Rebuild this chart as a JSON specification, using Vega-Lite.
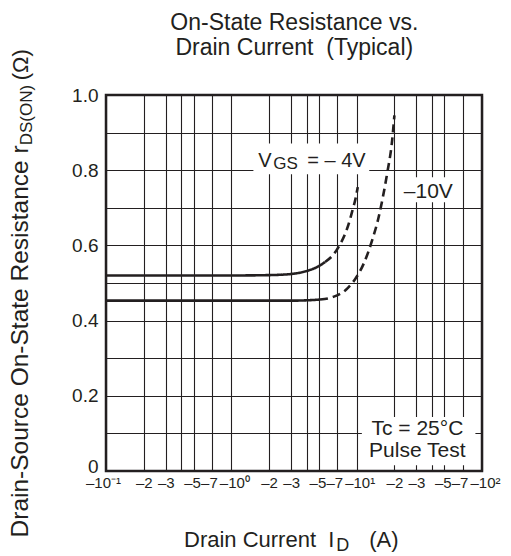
{
  "$schema": "https://vega.github.io/schema/vega-lite/v6.json",
  "width": 376,
  "height": 376,
  "autosize": "none",
  "padding": {"left": 106, "top": 95, "right": 29, "bottom": 85},
  "background": "white",
  "config": {
    "view": {"stroke": "#231f20", "strokeWidth": 2.5},
    "font": "Liberation Sans",
    "text": {"color": "#231f20", "font": "Liberation Sans"}
  },
  "datasets": {
    "boxes": [
      {"x": 11.0, "x2": 88.6, "y": 0.015, "y2": 0.1436},
      {"x": 1.5, "x2": 12.6, "y": 0.789, "y2": 0.871},
      {"x": 22.3, "x2": 62.5, "y": 0.7146, "y2": 0.781}
    ],
    "curves": [
      {"vgs": "-4V", "seg": "solid", "x": 0.1, "y": 0.52},
      {"vgs": "-4V", "seg": "solid", "x": 1, "y": 0.52},
      {"vgs": "-4V", "seg": "solid", "x": 2, "y": 0.521},
      {"vgs": "-4V", "seg": "solid", "x": 3, "y": 0.524},
      {"vgs": "-4V", "seg": "solid", "x": 4, "y": 0.532},
      {"vgs": "-4V", "seg": "solid", "x": 5, "y": 0.545},
      {"vgs": "-4V", "seg": "solid", "x": 5.6, "y": 0.556},
      {"vgs": "-4V", "seg": "dashed", "x": 5.6, "y": 0.556},
      {"vgs": "-4V", "seg": "dashed", "x": 6.5, "y": 0.575},
      {"vgs": "-4V", "seg": "dashed", "x": 7.2, "y": 0.597},
      {"vgs": "-4V", "seg": "dashed", "x": 8.0, "y": 0.627},
      {"vgs": "-4V", "seg": "dashed", "x": 8.6, "y": 0.655},
      {"vgs": "-4V", "seg": "dashed", "x": 9.2, "y": 0.69},
      {"vgs": "-4V", "seg": "dashed", "x": 9.8, "y": 0.725},
      {"vgs": "-4V", "seg": "dashed", "x": 10.2, "y": 0.755},
      {"vgs": "-10V", "seg": "solid", "x": 0.1, "y": 0.453},
      {"vgs": "-10V", "seg": "solid", "x": 1, "y": 0.453},
      {"vgs": "-10V", "seg": "solid", "x": 3, "y": 0.453},
      {"vgs": "-10V", "seg": "solid", "x": 4, "y": 0.454},
      {"vgs": "-10V", "seg": "solid", "x": 5.1, "y": 0.456},
      {"vgs": "-10V", "seg": "dashed", "x": 5.1, "y": 0.456},
      {"vgs": "-10V", "seg": "dashed", "x": 6.5, "y": 0.463},
      {"vgs": "-10V", "seg": "dashed", "x": 8.4, "y": 0.485},
      {"vgs": "-10V", "seg": "dashed", "x": 9.8, "y": 0.512},
      {"vgs": "-10V", "seg": "dashed", "x": 11.4, "y": 0.552},
      {"vgs": "-10V", "seg": "dashed", "x": 13.3, "y": 0.614},
      {"vgs": "-10V", "seg": "dashed", "x": 15.0, "y": 0.676},
      {"vgs": "-10V", "seg": "dashed", "x": 16.0, "y": 0.72},
      {"vgs": "-10V", "seg": "dashed", "x": 17.5, "y": 0.791},
      {"vgs": "-10V", "seg": "dashed", "x": 19.2, "y": 0.88},
      {"vgs": "-10V", "seg": "dashed", "x": 20.0, "y": 0.946}
    ]
  },
  "encoding": {
    "x": {
      "field": "x", "type": "quantitative",
      "scale": {"type": "log", "domain": [0.1, 100], "nice": false},
      "axis": {
        "title": null,
        "values": [0.1, 0.2, 0.3, 0.4, 0.5, 0.7, 1, 2, 3, 4, 5, 7, 10, 20, 30, 40, 50, 70, 100],
        "grid": true, "gridColor": "#231f20", "gridWidth": 1.1, "gridOpacity": 1,
        "ticks": false, "domain": false,
        "labelFont": "Liberation Sans",
        "labelFontSize": 15, "labelColor": "#231f20", "labelPadding": 4,
        "labelBaseline": "top",
        "labelOverlap": false, "labelFlush": false, "labelBound": false,
        "labelOffset": {"condition": [
          {"test": "datum.value==0.1", "value": -3},
          {"test": "datum.value==1||datum.value==10||datum.value==100", "value": 3},
          {"test": "datum.value==0.7||datum.value==7||datum.value==70", "value": -3},
          {"test": "datum.value==0.5||datum.value==5||datum.value==50", "value": -1.5}
        ], "value": 0},
        "labelExpr": "datum.value==0.1?'–10⁻¹':datum.value==1?'–10⁰':datum.value==10?'–10¹':datum.value==100?'–10²':(datum.value==4||datum.value==40||datum.value==0.4)?'':'–'+round(datum.value/pow(10,floor(log(datum.value)/LN10+1e-9)))"
      }
    },
    "y": {
      "field": "y", "type": "quantitative",
      "scale": {"domain": [0, 1], "nice": false, "zero": false},
      "axis": {
        "title": null,
        "values": [0, 0.1, 0.2, 0.3, 0.4, 0.5, 0.6, 0.7, 0.8, 0.9, 1.0],
        "grid": true, "gridColor": "#231f20", "gridWidth": 1.1, "gridOpacity": 1,
        "ticks": false, "domain": false,
        "labelFont": "Liberation Sans", "labelFontSize": 19, "labelColor": "#231f20",
        "labelPadding": 8,
        "labelOffset": {"condition": {"test": "datum.value==0", "value": -5}, "value": 0},
        "labelExpr": "round(datum.value*10)%2==1 ? '' : (datum.value==0 ? '0' : format(datum.value,'.1f'))"
      }
    }
  },
  "layer": [
    {
      "data": {"name": "boxes"},
      "mark": {"type": "rect", "fill": "white", "stroke": null},
      "encoding": {"x2": {"field": "x2"}, "y2": {"field": "y2"}}
    },
    {
      "data": {"name": "curves"},
      "mark": {"type": "line", "color": "#231f20", "strokeWidth": 2.6, "interpolate": "monotone"},
      "encoding": {
        "detail": {"field": "vgs"},
        "strokeDash": {"field": "seg", "type": "nominal", "scale": {"domain": ["solid", "dashed"], "range": [[1, 0], [8, 5]]}, "legend": null}
      }
    },
    {
      "data": {"values": [{"x": 3.18, "y": 1.172, "t": "On-State Resistance vs."}, {"x": 3.18, "y": 1.1056, "t": "Drain Current\u00a0 (Typical)"}]},
      "mark": {"type": "text", "align": "center", "baseline": "alphabetic", "fontSize": 23},
      "encoding": {"text": {"field": "t"}}
    },
    {
      "data": {"values": [{"x": 1.643, "y": 0.809, "t": "V"}, {"x": 4.04, "y": 0.809, "t": "= – 4V"}]},
      "mark": {"type": "text", "align": "left", "baseline": "alphabetic", "fontSize": 20},
      "encoding": {"text": {"field": "t"}}
    },
    {
      "data": {"values": [{"x": 2.163, "y": 0.8024, "t": "GS"}]},
      "mark": {"type": "text", "align": "left", "baseline": "alphabetic", "fontSize": 17},
      "encoding": {"text": {"field": "t"}}
    },
    {
      "data": {"values": [{"x": 37.3, "y": 0.725, "t": "–10V"}, {"x": 30.5, "y": 0.095, "t": "Tc = 25°C"}, {"x": 30.5, "y": 0.037, "t": "Pulse Test"}]},
      "mark": {"type": "text", "align": "center", "baseline": "alphabetic", "fontSize": 21},
      "encoding": {"text": {"field": "t"}}
    },
    {
      "data": {"values": [{"x": 6.64, "y": -0.202, "t": "Drain Current\u00a0 I"}]},
      "mark": {"type": "text", "align": "right", "baseline": "alphabetic", "fontSize": 22},
      "encoding": {"text": {"field": "t"}}
    },
    {
      "data": {"values": [{"x": 6.88, "y": -0.2136, "t": "D"}]},
      "mark": {"type": "text", "align": "left", "baseline": "alphabetic", "fontSize": 18},
      "encoding": {"text": {"field": "t"}}
    },
    {
      "data": {"values": [{"x": 12.6, "y": -0.202, "t": "(A)"}]},
      "mark": {"type": "text", "align": "left", "baseline": "alphabetic", "fontSize": 22},
      "encoding": {"text": {"field": "t"}}
    },
    {
      "data": {"values": [{"x": 0.02399, "y": 0.8662, "t": "Drain-Source On-State Resistance r"}]},
      "mark": {"type": "text", "align": "right", "baseline": "alphabetic", "fontSize": 24.5, "angle": 270},
      "encoding": {"text": {"field": "t"}}
    },
    {
      "data": {"values": [{"x": 0.02582, "y": 0.8662, "t": "DS(ON)"}]},
      "mark": {"type": "text", "align": "left", "baseline": "alphabetic", "fontSize": 17, "angle": 270},
      "encoding": {"text": {"field": "t"}}
    },
    {
      "data": {"values": [{"x": 0.02399, "y": 1.039, "t": "(Ω)"}]},
      "mark": {"type": "text", "align": "left", "baseline": "alphabetic", "fontSize": 22, "angle": 270},
      "encoding": {"text": {"field": "t"}}
    }
  ]
}
